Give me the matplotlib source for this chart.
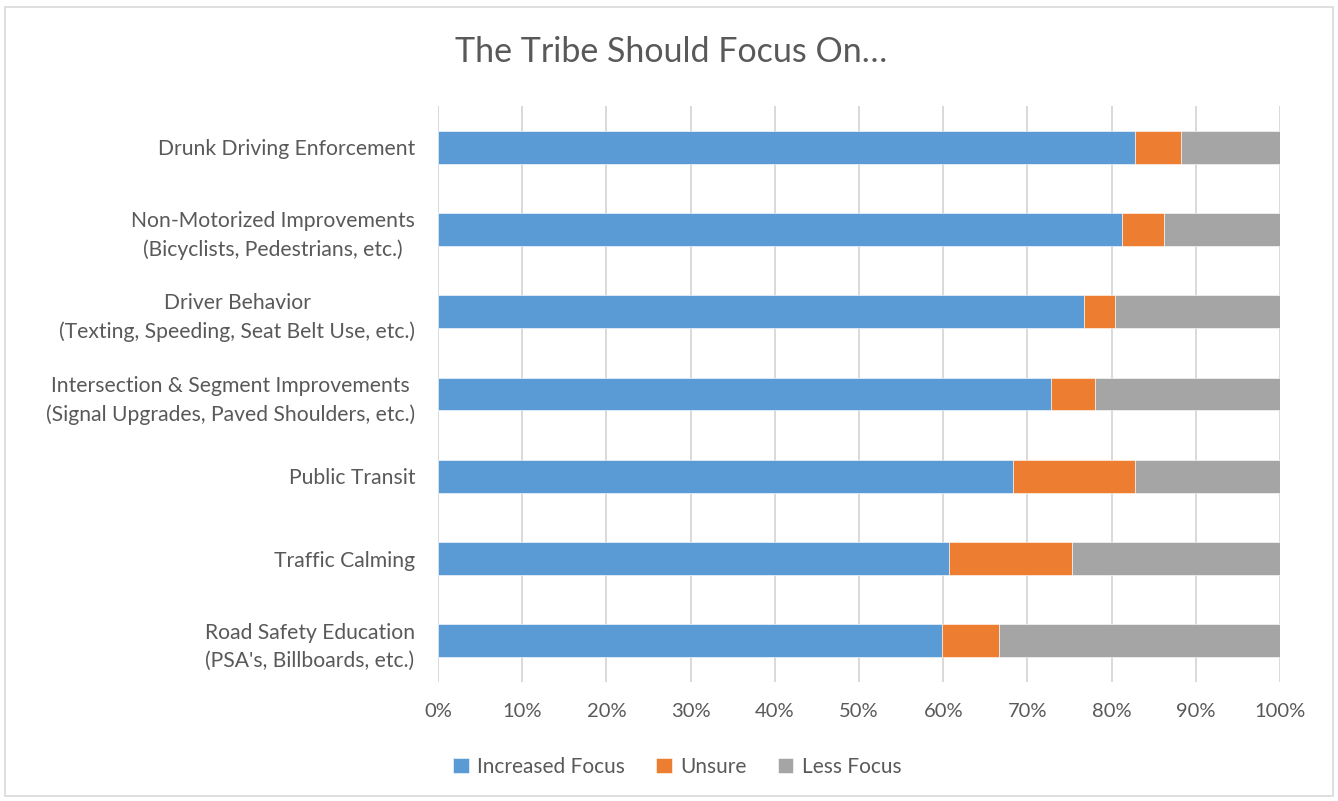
import matplotlib
matplotlib.use("Agg")
import matplotlib.pyplot as plt
from matplotlib.patches import Rectangle
import numpy as np

plt.rcParams['font.family'] = ['Lato', 'DejaVu Sans']

categories = [
    "Drunk Driving Enforcement",
    "Non-Motorized Improvements\n(Bicyclists, Pedestrians, etc.)",
    "Driver Behavior\n(Texting, Speeding, Seat Belt Use, etc.)",
    "Intersection & Segment Improvements\n(Signal Upgrades, Paved Shoulders, etc.)",
    "Public Transit",
    "Traffic Calming",
    "Road Safety Education\n(PSA's, Billboards, etc.)",
]
increased = [82.8, 81.2, 76.7, 72.8, 68.3, 60.7, 59.8]
unsure = [5.5, 5.0, 3.7, 5.2, 14.5, 14.6, 6.8]
less = [100 - a - b for a, b in zip(increased, unsure)]

series_names = ["Increased Focus", "Unsure", "Less Focus"]
colors = ["#5B9BD5", "#ED7D31", "#A5A5A5"]
text_color = "#595959"

fig = plt.figure(figsize=(13.38, 8.01), dpi=100)
fig.patches.append(Rectangle((0.004, 0.006), 0.992, 0.985, transform=fig.transFigure,
                             fill=False, edgecolor="#D9D9D9", linewidth=1.2))
ax = fig.add_axes([438 / 1338, 1 - 682 / 801, (1280 - 438) / 1338, (682 - 106) / 801])

y = np.arange(len(categories))
left = np.zeros(len(categories))
for vals, name, c in zip([increased, unsure, less], series_names, colors):
    ax.barh(y, vals, left=left, height=0.4, color=c, label=name,
            edgecolor="white", linewidth=0.4, zorder=3)
    left += np.array(vals)

ax.set_ylim(len(categories) - 0.5, -0.5)
ax.set_xlim(0, 100)
ax.set_xticks(np.arange(0, 101, 10))
ax.set_xticklabels([f"{v}%" for v in range(0, 101, 10)])
ax.set_yticks(y)
ax.set_yticklabels(categories)
ax.tick_params(axis="both", length=0, colors=text_color)
ax.tick_params(axis="x", labelsize=14.5, pad=15)
ax.tick_params(axis="y", labelsize=15.2, pad=16.5)
for lbl in ax.get_yticklabels():
    lbl.set_multialignment("center")
    lbl.set_linespacing(1.5)
ax.grid(axis="x", color="#D9D9D9", linewidth=1.4, zorder=0)
for s in ax.spines.values():
    s.set_visible(False)

fig.text(671 / 1338, 1 - 52 / 801, "The Tribe Should Focus On…", ha="center", va="center",
         fontsize=24.5, color=text_color)

ax.legend(loc="center", bbox_to_anchor=(677 / 1338, 1 - 767 / 801), bbox_transform=fig.transFigure,
          ncol=3, frameon=False, fontsize=15, labelcolor=text_color,
          handlelength=0.75, handleheight=0.75, handletextpad=0.4, columnspacing=1.5)

fig.savefig("out.png", dpi=100)
